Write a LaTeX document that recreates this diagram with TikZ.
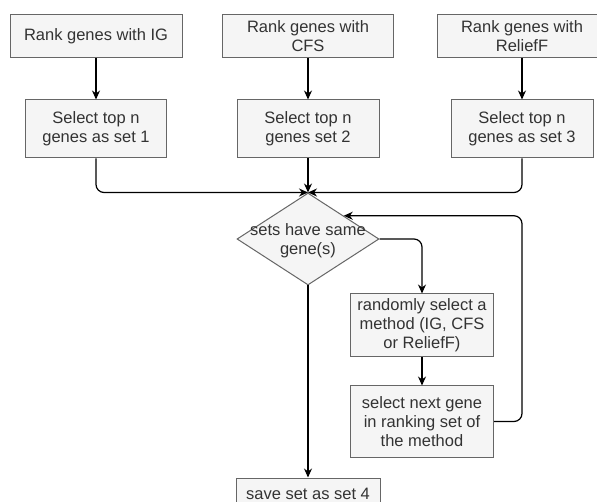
\documentclass[tikz,border=0pt]{standalone}
\usepackage{fontspec}
\setmainfont{Liberation Sans}
\usetikzlibrary{arrows.meta,shapes.geometric}
\definecolor{boxfill}{HTML}{F5F5F5}
\definecolor{boxline}{HTML}{666666}
\definecolor{txt}{HTML}{333333}
\begin{document}
\begin{tikzpicture}[x=1pt,y=-1pt,
  every node/.style={font=\fontsize{16.5}{19}\selectfont, text=txt},
  proc/.style={draw=boxline, fill=boxfill, line width=1pt, inner sep=0pt, align=center},
  arr/.style={draw=black, line width=1.2pt, -{Stealth[length=9pt,width=8pt]}, rounded corners=8pt}]
\clip (0,0) rectangle (597,502);
\fill[white] (0,0) rectangle (597,502);

% ranking step for each method
\node[proc, minimum width=172pt, minimum height=43pt] (a1) at (96,36.5) {Rank genes with IG};
\node[proc, minimum width=171pt, minimum height=43pt] (a2) at (308,36.5) {Rank genes with\\CFS};
\node[proc, minimum width=170pt, minimum height=43pt] (a3) at (522,36.5) {Rank genes with\\ReliefF};

% top-n selection
\node[proc, minimum width=141pt, minimum height=58pt] (b1) at (96,129) {Select top n\\genes as set 1};
\node[proc, minimum width=142pt, minimum height=58pt] (b2) at (308,129) {Select top n\\genes set 2};
\node[proc, minimum width=142pt, minimum height=58pt] (b3) at (522,129) {Select top n\\genes as set 3};

% decision
\node[diamond, draw=boxline, fill=boxfill, line width=1pt, minimum width=142pt, minimum height=92pt, inner sep=0pt] (dia) at (308,239) {};
\node[align=center] (diatext) at (308,241) {sets have same\\gene(s)};

% loop body
\node[proc, minimum width=143pt, minimum height=63pt] (c1) at (422,325.5) {randomly select a\\method (IG, CFS\\or ReliefF)};
\node[proc, minimum width=143pt, minimum height=71pt] (c2) at (422,421.5) {select next gene\\in ranking set of\\the method};

% result
\node[proc, minimum width=144pt, minimum height=32pt] (d) at (308,494) {save set as set 4};

% connectors
\draw[arr] (a1.south) -- (b1.north);
\draw[arr] (a2.south) -- (b2.north);
\draw[arr] (a3.south) -- (b3.north);
\draw[arr] (b1.south) |- (dia.north);
\draw[arr] (b2.south) -- (dia.north);
\draw[arr] (b3.south) |- (dia.north);
\draw[arr] (dia.east) -| (c1.north);
\draw[arr] (c1.south) -- (c2.north);
\draw[arr] (c2.east) -- ++(28,0) |- (dia.north east);
\draw[arr] (dia.south) -- (d.north);
\end{tikzpicture}
\end{document}
